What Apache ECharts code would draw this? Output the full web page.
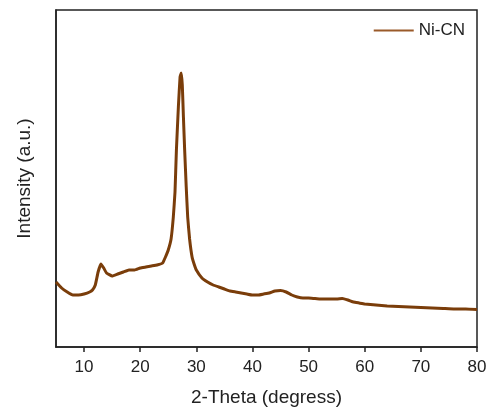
<!DOCTYPE html>
<html>
<head>
<meta charset="utf-8">
<script src="https://cdn.jsdelivr.net/npm/echarts@6/dist/echarts.min.js"></script>
<style>
  html, body { margin: 0; padding: 0; background: #fff; }
  #chart { width: 491px; height: 417px; }
</style>
</head>
<body>
<div id="chart"></div>
<script>
// 2-theta positions (degrees) and intensity (a.u.)
const twoTheta = [
  5, 6, 7, 8, 9, 10, 11, 11.5, 12, 12.5, 13, 13.5, 14, 15, 16, 17, 18, 19, 20,
  21, 22, 23, 24, 24.5, 25, 25.5, 25.9, 26.2, 26.45, 26.8, 27.1, 27.3, 27.5,
  27.7, 27.92, 28.2, 28.46, 28.8, 29.24, 29.6, 30, 31, 32, 33, 34, 35, 36, 37,
  38, 39, 40, 41, 42, 43, 44, 45, 46, 47, 48, 49, 50, 51, 52, 53, 54, 55, 56,
  57, 58, 59, 60, 62, 64, 66, 68, 70, 72, 74, 76, 78, 80
]
const intensity = [
  65, 59, 55, 52, 52, 53, 55, 57, 62, 75, 83, 79, 74, 71, 73, 75, 77, 77, 79,
  80, 81, 82, 84, 90, 97, 108, 130, 155, 197, 240, 270, 274, 262,
  230, 197, 160, 130, 108, 90, 83, 77, 69, 65, 62, 60, 58, 56, 55,
  54, 53, 52, 52, 53, 54, 56, 56.5, 55, 52, 50, 49, 49, 48.5, 48, 48, 48, 48, 48.5,
  47, 45, 44, 43, 42, 41, 40.5, 40, 39.5, 39, 38.5, 38, 38, 37.5
]
const xTicks = [10, 20, 30, 40, 50, 60, 70, 80]

const chart = echarts.init(document.getElementById('chart'))

const option = {
  animation: false,
  textStyle: { fontFamily: 'Liberation Sans, Arial, sans-serif' },
  grid: {
    left: 56,
    right: 14,
    top: 10,
    bottom: 70,
    show: true,
    borderColor: '#222',
    borderWidth: 1.5
  },
  legend: {
    data: [{ name: 'Ni-CN', icon: 'rect' }],
    right: 21,
    top: 17,
    itemWidth: 40,
    itemHeight: 2,
    itemGap: 4,
    itemStyle: { color: '#9a5a2a' },
    textStyle: { color: '#222', fontSize: 17 }
  },
  xAxis: {
    type: 'value',
    min: 5,
    max: 80,
    interval: 10,
    name: '2-Theta (degress)',
    nameLocation: 'middle',
    nameGap: 41,
    nameTextStyle: { color: '#222', fontSize: 19 },
    axisLine: { show: true, lineStyle: { color: '#222', width: 1.5 } },
    axisTick: {
      show: true,
      inside: false,
      length: 5,
      lineStyle: { color: '#222', width: 1.5 },
      customValues: xTicks
    },
    axisLabel: {
      color: '#222',
      fontSize: 17,
      margin: 12,
      customValues: xTicks
    },
    splitLine: { show: false }
  },
  yAxis: {
    type: 'value',
    min: 0,
    max: 337,
    name: 'Intensity (a.u.)',
    nameLocation: 'middle',
    nameGap: 22,
    nameTextStyle: { color: '#222', fontSize: 19 },
    axisLine: { show: true, lineStyle: { color: '#222', width: 1.5 } },
    axisTick: { show: false },
    axisLabel: { show: false },
    splitLine: { show: false }
  },
  series: [
    {
      name: 'Ni-CN',
      type: 'line',
      data: twoTheta.map((t, i) => [t, intensity[i]]),
      showSymbol: false,
      symbol: 'none',
      smooth: 0.1,
      lineStyle: { color: '#7a3d0a', width: 3 },
      itemStyle: { color: '#7a3d0a' }
    }
  ]
}

chart.setOption(option)
</script>
</body>
</html>
